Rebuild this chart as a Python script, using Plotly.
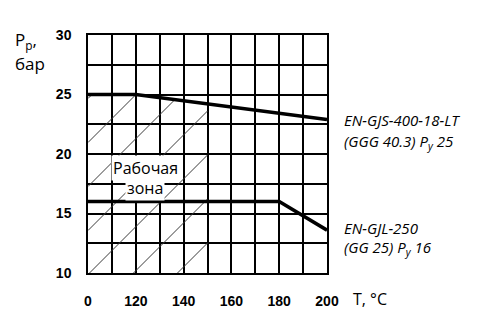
import numpy as np
import plotly.graph_objects as go

# --- data -------------------------------------------------------------
# EN-GJS-400-18-LT (GGG 40.3), nominal PN 25
t_gjs = [0, 120, 200]
p_gjs = [25.0, 25.0, 22.9]

# EN-GJL-250 (GG 25), nominal PN 16
t_gjl = [0, 180, 200]
p_gjl = [16.0, 16.0, 13.6]

x_ticks = [0, 120, 140, 160, 180, 200]
y_ticks = [10, 15, 20, 25, 30]

# working zone spans 0..150 °C
zone_t = [0, 150]

# --- layout geometry --------------------------------------------------
W, H = 497, 332
ML, MR, MT, MB = 88, 170, 35, 59
PW, PH = W - ML - MR, H - MT - MB
X0, X1 = 100, 200          # axis positions (0 °C sits at 100, axis is broken below 120)
Y0, Y1 = 10, 30


def pos(t):
    """Temperature -> axis position; the 0..120 °C span is compressed into one division."""
    t = np.asarray(t, dtype=float)
    return np.where(t >= 120, t, 100 + t / 120 * 20)


ux = PW / (X1 - X0)        # px per axis unit
uy = PH / (Y1 - Y0)        # px per bar

# --- 45° hatch lines ("/") clipped to the working zone -----------------
xa, xb = pos(zone_t)
px_right = (xb - X0) * ux
hx, hy = [], []
pitch, offset = 44.0, 1.5
xs_px = np.arange(0, px_right + 0.05, 0.1)
for k in range(-8, 6):
    c = offset + k * pitch
    y_up = xs_px - c
    xd = X0 + xs_px / ux
    yd = Y0 + y_up / uy
    top = np.interp(xd, pos(t_gjs), p_gjs)
    m = (yd >= Y0) & (yd <= top) & (xd >= xa)
    if m.sum() < 2:
        continue
    idx = np.where(m)[0]
    hx += [xd[idx[0]], xd[idx[-1]], None]
    hy += [yd[idx[0]], yd[idx[-1]], None]

fig = go.Figure()
fig.add_trace(go.Scatter(x=hx, y=hy, mode="lines",
                         line=dict(color="#3a3a3a", width=1), hoverinfo="skip"))
fig.add_trace(go.Scatter(x=pos(t_gjs), y=p_gjs, mode="lines",
                         line=dict(color="black", width=3.5)))
fig.add_trace(go.Scatter(x=pos(t_gjl), y=p_gjl, mode="lines",
                         line=dict(color="black", width=3.5)))

tick_font = dict(family="Liberation Sans", size=14, color="black", weight="bold")
grid = dict(showgrid=True, gridcolor="black", gridwidth=1.5)

fig.update_xaxes(range=[X0, X1], tickvals=pos(x_ticks), ticktext=[str(v) for v in x_ticks],
                 ticks="", ticklabelstandoff=14, tickfont=tick_font,
                 showline=True, mirror=True, linecolor="black", linewidth=1.5,
                 zeroline=False, minor=dict(dtick=10, tick0=100, ticks="", **grid), **grid)
fig.update_yaxes(range=[Y0, Y1], tickvals=y_ticks, ticks="", ticklabelstandoff=12,
                 tickfont=tick_font, showline=True, mirror=True, linecolor="black",
                 linewidth=1.5, zeroline=False,
                 minor=dict(dtick=2.5, tick0=10, ticks="", **grid), **grid)

txt = dict(family="Open Sans", color="black")
ann = []
# working zone caption
for s, ypx in (("Рабочая", 168), ("зона", 188)):
    ann.append(dict(text=s, xref="paper", yref="paper",
                    x=(145 - ML) / PW, y=1 - (ypx - MT) / PH,
                    xanchor="center", yanchor="middle", showarrow=False,
                    font=dict(size=16, **txt), bgcolor="white", borderpad=1))
# curve labels
for s, ypx in (("<i>EN-GJS-400-18-LT</i>", 120), ("<i>(GGG 40.3) Р<sub>у</sub> 25</i>", 142),
               ("<i>EN-GJL-250</i>", 228), ("<i>(GG 25) Р<sub>у</sub> 16</i>", 248)):
    ann.append(dict(text=s, xref="paper", yref="paper", x=1, xshift=15,
                    y=1 - (ypx - MT) / PH, xanchor="left", yanchor="middle",
                    showarrow=False, font=dict(size=15, **txt)))
# axis titles
ann.append(dict(text="Р<sub>р</sub>,", xref="paper", yref="paper", x=0, xshift=13 - ML,
                y=1 - (40 - MT) / PH, xanchor="left", yanchor="middle", showarrow=False,
                font=dict(size=17, **txt)))
ann.append(dict(text="бар", xref="paper", yref="paper", x=0, xshift=13 - ML,
                y=1 - (63 - MT) / PH, xanchor="left", yanchor="middle", showarrow=False,
                font=dict(size=17, **txt)))
ann.append(dict(text="T, °C", xref="paper", yref="paper", x=1, xshift=351 - (ML + PW),
                y=0, yshift=-(299 - (MT + PH)), xanchor="left", yanchor="middle",
                showarrow=False, font=dict(size=16, **txt)))

fig.update_layout(width=W, height=H, margin=dict(l=ML, r=MR, t=MT, b=MB),
                  paper_bgcolor="white", plot_bgcolor="white", showlegend=False,
                  annotations=ann)

fig.write_html("out.html")
